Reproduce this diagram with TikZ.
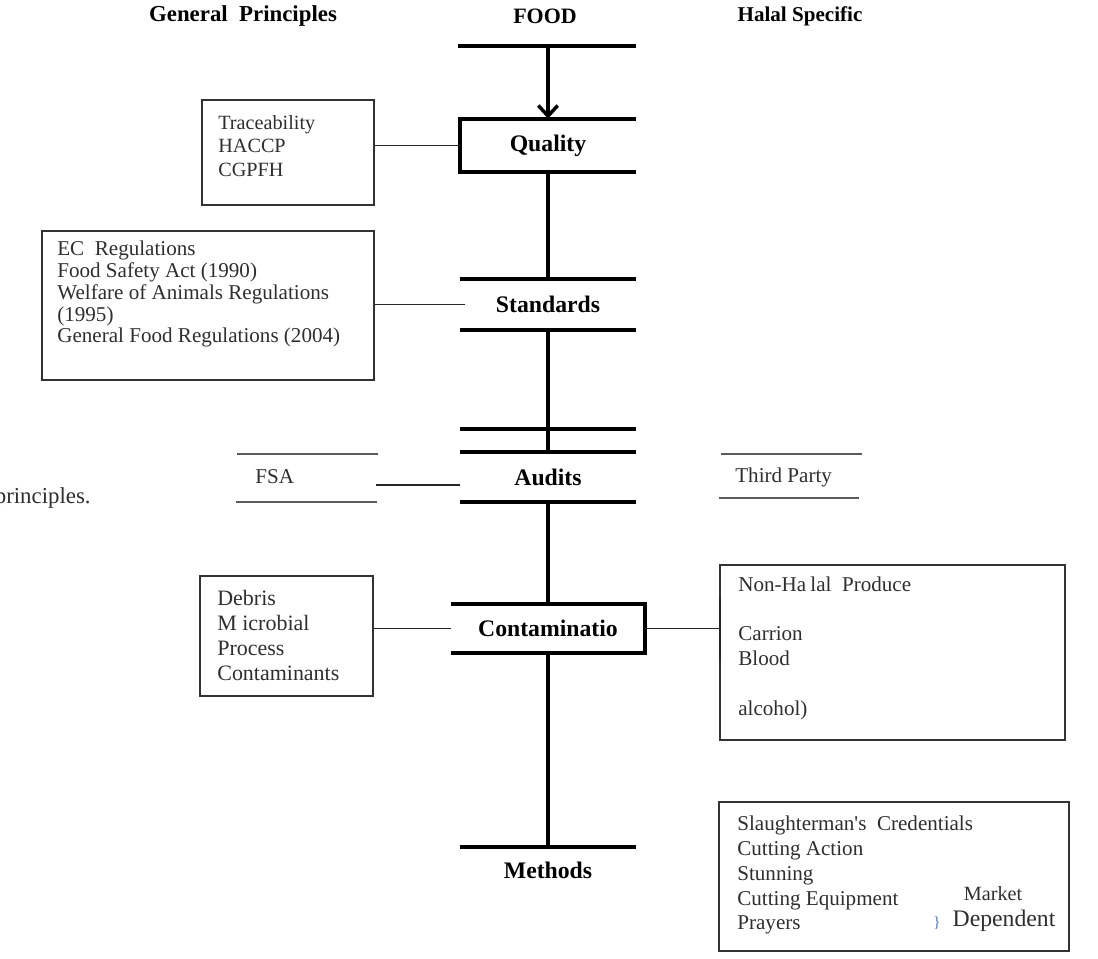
\documentclass[tikz,border=0pt]{standalone}
\usepackage{fontspec}
\setmainfont{Liberation Serif}
\usetikzlibrary{arrows.meta}
\definecolor{bodytext}{HTML}{2E2E2E}
\definecolor{rulegray}{HTML}{5A5A5A}
\definecolor{bracecol}{HTML}{4F81BD}

\begin{document}
\begin{tikzpicture}[x=0.02cm, y=-0.02cm,
	heavy/.style={line width=2.3pt},
	spine/.style={line width=2pt},
	conn/.style={line width=0.8pt, black!85},
	box/.style={draw=black!80, line width=0.8pt, inner sep=0pt},
	head/.style={font=\fontsize{12.5}{15}\selectfont\bfseries, inner sep=0pt},
	stage/.style={font=\fontsize{13.5}{16}\selectfont\bfseries, inner sep=0pt},
	items/.style={font=\fontsize{12}{14}\selectfont, text=bodytext, align=left, anchor=west, inner sep=0pt},
	grayrule/.style={draw=rulegray, line width=1.3pt}]

	\useasboundingbox (0,0) rectangle (1098,958);

	\node[head, font=\fontsize{13}{15}\selectfont\bfseries] (genhead) at (243,16) {General\ \ Principles};
	\node[head] (foodhead) at (545,16) {FOOD};
	\node[head, font=\fontsize{12}{15}\selectfont\bfseries] (halalhead) at (800,16) {Halal Specific};

	\node[stage, minimum width=3.5cm, minimum height=1.06cm] (quality) at (548,145.5) {Quality};
	\node[stage, minimum width=3.52cm, minimum height=1.02cm] (standards) at (548,304.5) {Standards};
	\node[stage, minimum width=3.5cm, minimum height=1.0cm] (audits) at (548,477) {Audits};
	\node[stage, minimum width=3.88cm, minimum height=0.98cm] (contam) at (548,628.5) {Contaminatio};
	\node[stage] (methods) at (548,870) {Methods};

	\coordinate (foodline) at (548,46);
	\coordinate (methodline) at (548,847);

	\draw[heavy] (458,46) -- (636,46);
	\draw[heavy] (quality.north east) -- (quality.north west) -- (quality.south west) -- (quality.south east);
	\draw[heavy] (standards.north west) -- (standards.north east);
	\draw[heavy] (standards.south west) -- (standards.south east);
	\draw[heavy] (460,429) -- (636,429);
	\draw[heavy] (audits.north west) -- (audits.north east);
	\draw[heavy] (audits.south west) -- (audits.south east);
	\draw[heavy] (contam.north west) -- (contam.north east) -- (contam.south east) -- (contam.south west);
	\draw[heavy] (460,847) -- (636,847);

	\draw[spine, -{Straight Barb[length=6pt, width=11pt]}] (foodline) -- (quality.north);
	\draw[spine] (quality.south) -- (standards.north);
	\draw[spine] (standards.south) -- (audits.north);
	\draw[spine] (audits.south) -- (contam.north);
	\draw[spine] (contam.south) -- (methodline);

	\node[box, minimum width=3.44cm, minimum height=2.1cm] (tracebox) at (288,152.5) {};
	\node[items, font=\fontsize{11.5}{13.4}\selectfont] (tracetext) at (218,146) {Traceability\\HACCP\\CGPFH};
	\draw[conn] (tracebox.east |- quality.west) -- (quality.west);

	\node[box, minimum width=6.64cm, minimum height=2.98cm] (regbox) at (208,305.5) {};
	\node[items, font=\fontsize{12}{12.5}\selectfont] (regtext) at (57,294) {EC\ \ Regulations\\Food Safety Act (1990)\\Welfare of Animals Regulations\\(1995)\\General Food Regulations (2004)};
	\draw[conn] (regbox.east |- standards.west) -- ([xshift=3pt]standards.west);

	\node[items, font=\fontsize{13}{15}\selectfont, anchor=east] (principles) at (91,498) {principles.};

	\node[items] (fsa) at (255,477) {FSA};
	\draw[grayrule] (237,454) -- (378,454);
	\draw[grayrule] (236,502) -- (377,502);
	\coordinate (fsaright) at (376,485);
	\draw[conn] (fsaright) -- (fsaright -| audits.west);

	\node[items] (thirdparty) at (735,477) {Third Party};
	\draw[grayrule] (721,454) -- (862,454);
	\draw[grayrule] (719,498) -- (859,498);

	\node[box, minimum width=3.46cm, minimum height=2.4cm] (debrisbox) at (286.5,636) {};
	\node[items, font=\fontsize{12.5}{14.2}\selectfont] (debristext) at (217,635.5) {Debris\\M icrobial\\Process\\Contaminants};
	\draw[conn] (debrisbox.east |- contam.west) -- (contam.west);

	\node[box, minimum width=6.9cm, minimum height=3.5cm] (halalbox) at (892.5,652.5) {};
	\node[items, font=\fontsize{12}{14.1}\selectfont] (halaltext) at (738,648) {Non-Ha\hspace{0.2em}lal\ \ Produce\\\mbox{}\\Carrion\\Blood\\\mbox{}\\alcohol)};
	\draw[conn, line width=1pt] (contam.east) -- (contam.east -| halalbox.west);
	\draw[line width=1.6pt, black!85] (720,598) -- (720,660);

	\node[box, minimum width=7cm, minimum height=2.98cm] (methodbox) at (894,876.5) {};
	\node[items, font=\fontsize{12}{14.2}\selectfont] (methodtext) at (737,875) {Slaughterman\textquotesingle s\ \ Credentials\\Cutting Action\\Stunning\\Cutting Equipment\\Prayers};
	\node[items, anchor=center, font=\fontsize{11.5}{13}\selectfont] (market) at (993,894) {Market};
	\node[items, anchor=center, font=\fontsize{13.5}{15}\selectfont] (dependent) at (1004,921) {Dependent};
	\node[text=bracecol, font=\fontsize{9}{10}\selectfont, inner sep=0pt] (brace) at (937,923) {\}};
\end{tikzpicture}
\end{document}
